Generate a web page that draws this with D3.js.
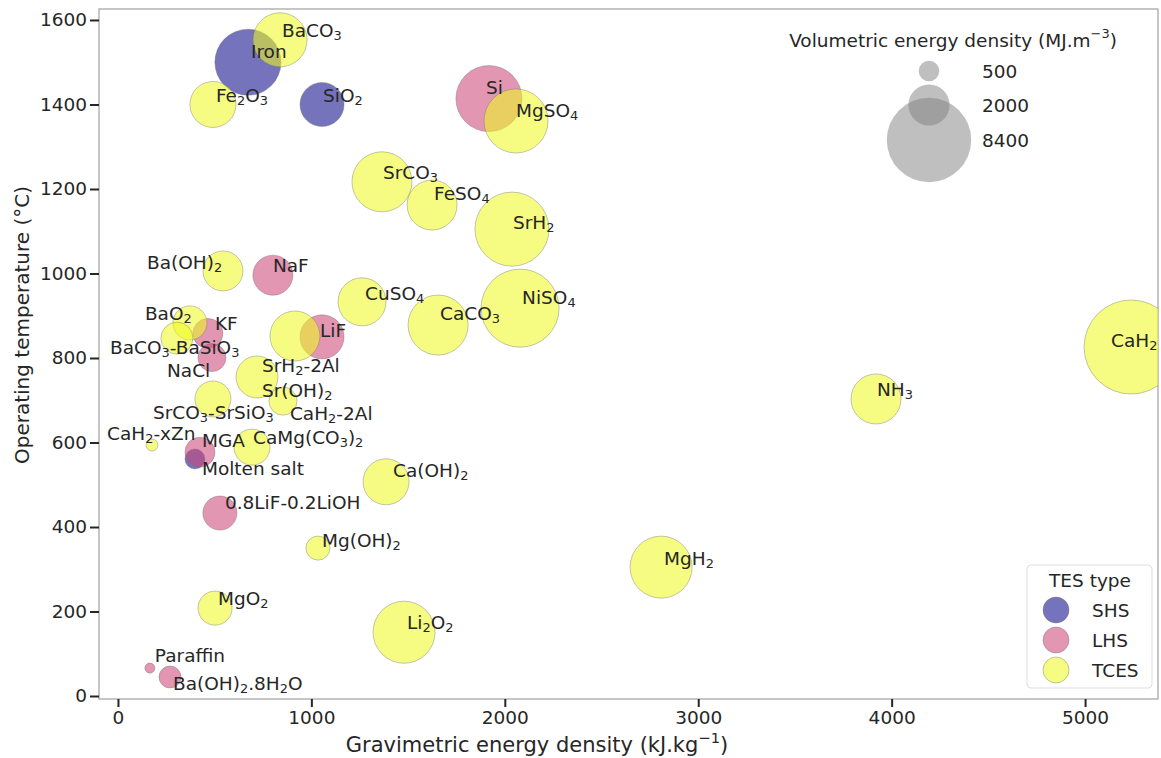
<!DOCTYPE html>
<html><head><meta charset="utf-8">
<script src="https://cdn.jsdelivr.net/npm/d3@7"></script>
<style>
body{margin:0;background:#fff}
svg text{font-family:"DejaVu Sans",sans-serif;fill:#262626}
</style>
</head><body>
<svg id="chart" width="1161" height="758"></svg>
<script>
// ---------- data ----------
const names = ["Iron","SiO_2","Molten salt",
  "Si","NaF","KF","NaCl","LiF","MGA","0.8LiF-0.2LiOH","Paraffin","Ba(OH)_2.8H_2O",
  "BaCO_3","Fe_2O_3","MgSO_4","SrCO_3","FeSO_4","SrH_2","Ba(OH)_2","CuSO_4","CaCO_3","NiSO_4",
  "BaO_2","BaCO_3-BaSiO_3","Sr(OH)_2","SrH_2-2Al","CaH_2-2Al","SrCO_3-SrSiO_3","CaH_2-xZn",
  "CaMg(CO_3)_2","Ca(OH)_2","Mg(OH)_2","MgH_2","NH_3","CaH_2","MgO_2","Li_2O_2"];
const types = ["SHS","SHS","SHS",
  "LHS","LHS","LHS","LHS","LHS","LHS","LHS","LHS","LHS",
  "TCES","TCES","TCES","TCES","TCES","TCES","TCES","TCES","TCES","TCES",
  "TCES","TCES","TCES","TCES","TCES","TCES","TCES",
  "TCES","TCES","TCES","TCES","TCES","TCES","TCES","TCES"];
const gravimetric = [672,1055,398,
  1918,801,465,486,1055,424,527,165,269,
  838,491,2058,1365,1624,2037,543,1262,1655,2079,
  372,305,915,719,853,491,176,
  693,1386,1034,2808,3919,5238,502,1479];
const temperature = [1500,1400,561,
  1414,996,858,801,850,577,433,66,45,
  1553,1400,1361,1217,1162,1105,1006,933,878,918,
  883,847,852,755,698,703,594,
  589,507,350,305,703,826,208,151];
const volumetric = [5150,2290,470,
  5150,1890,1060,930,2290,1060,1370,120,570,
  3450,2500,4840,4250,2950,6470,1890,2720,4250,7190,
  1370,1210,2950,2080,930,1530,170,
  1530,2500,680,4540,2950,10440,1370,4540];

const typeNames = ["SHS","LHS","TCES"];
const sizeLegendValues = [500,2000,8400];
const xTicks = [0,1000,2000,3000,4000,5000];
const yTicks = [0,200,400,600,800,1000,1200,1400,1600];

// label offsets in pixels from the bubble centre (layout only)
const labelOffsets = [[3,-11],[1,-9],[7,9],
  [-3,-12],[0,-10],[7,-10],[-45,12],[-2,-7],[2,-12],[5,-11],[5,-13],[3,6],
  [2,-10],[3,-9],[0,-11],[1,-10],[2,-12],[1,-7],[-76,-9],[3,-9],[2,-12],[2,-11],
  [-45,-10],[-67,9],[-33,54],[5,-12],[7,12],[-60,13],[-45,-12],
  [1,-10],[7,-12],[4,-8],[3,-9],[1,-10],[-20,-7],[3,-10],[3,-10]];

// ---------- layout ----------
const svg = d3.select("#chart");
const L = 99, R = 1158, T = 9, B = 699;
const FS = 18.5;
const x = d3.scaleLinear().domain([-98, 5377]).range([L, R]);
const y = d3.scaleLinear().domain([-7.1, 1626]).range([B, T]);
const r = d3.scaleSqrt().domain([0, 8400]).range([0, 42.2]);
const color = d3.scaleOrdinal().domain(typeNames)
  .range([d3.interpolatePlasma(0), d3.interpolatePlasma(0.5), d3.interpolatePlasma(1)]);
const ALPHA = 0.57;

// rich text: _X subscript (one char), ^{..} superscript
function rich(sel, str, size) {
  const parts = [];
  let i = 0, buf = "";
  while (i < str.length) {
    const c = str[i];
    if (c === "_") { if (buf) parts.push({t: buf, k: 0}); buf = ""; parts.push({t: str[i+1], k: 1}); i += 2; }
    else if (c === "^") { if (buf) parts.push({t: buf, k: 0}); buf = ""; const e = str.indexOf("}", i); parts.push({t: str.slice(i+2, e), k: -1}); i = e + 1; }
    else { buf += c; i++; }
  }
  if (buf) parts.push({t: buf, k: 0});
  let shift = 0;
  parts.forEach(p => {
    const target = p.k === 1 ? size*0.27 : p.k === -1 ? -size*0.38 : 0;
    sel.append("tspan").attr("dy", target - shift)
      .attr("font-size", p.k ? size*0.7 : size).text(p.t);
    shift = target;
  });
}

svg.append("defs").append("clipPath").attr("id", "plotclip")
  .append("rect").attr("x", L).attr("y", T).attr("width", R-L).attr("height", B-T);

// frame (spines)
svg.append("rect").attr("x", L).attr("y", T).attr("width", R-L).attr("height", B-T)
  .attr("fill", "none").attr("stroke", "#a0a0a0").attr("stroke-width", 1.2);

// axes
const gx = svg.append("g").attr("transform", `translate(0,${B})`)
  .call(d3.axisBottom(x).tickValues(xTicks).tickSize(8).tickPadding(4).tickFormat(d3.format("d")));
const gy = svg.append("g").attr("transform", `translate(${L},0)`)
  .call(d3.axisLeft(y).tickValues(yTicks).tickSize(9).tickPadding(3).tickFormat(d3.format("d")));
[gx, gy].forEach(g => {
  g.select(".domain").remove();
  g.selectAll(".tick line").attr("stroke", "#262626").attr("stroke-width", 2);
  g.selectAll(".tick text").attr("font-size", FS).attr("fill", "#262626")
    .style("font-family", "DejaVu Sans");
});

// axis titles
const xt = svg.append("text").attr("x", 537).attr("y", 745).attr("text-anchor", "middle")
  .attr("dominant-baseline", "central").attr("font-size", 21);
rich(xt, "Gravimetric energy density (kJ.kg^{−1})", 21);
svg.append("text").attr("transform", "translate(22,325) rotate(-90)").attr("text-anchor", "middle")
  .attr("dominant-baseline", "central").attr("font-size", 20).text("Operating temperature (°C)");

// bubbles
const idx = d3.range(names.length);
const plot = svg.append("g").attr("clip-path", "url(#plotclip)");
plot.selectAll("circle").data(idx).join("circle")
  .attr("cx", i => x(gravimetric[i])).attr("cy", i => y(temperature[i]))
  .attr("r", i => r(volumetric[i]))
  .attr("fill", i => color(types[i])).attr("fill-opacity", ALPHA)
  .attr("stroke", "#707070").attr("stroke-opacity", 0.5).attr("stroke-width", 0.8);

// labels
idx.forEach(i => {
  const t = plot.append("text")
    .attr("x", x(gravimetric[i]) + labelOffsets[i][0])
    .attr("y", y(temperature[i]) + labelOffsets[i][1])
    .attr("dominant-baseline", "central").attr("font-size", FS);
  rich(t, names[i], FS);
});

// size legend
svg.append("text").attr("x", 953).attr("y", 40).attr("text-anchor", "middle")
  .attr("dominant-baseline", "central").attr("font-size", FS)
  .call(s => rich(s, "Volumetric energy density (MJ.m^{−3})", FS));
const sl = svg.append("g");
const sizeY = [71, 105, 140];
sizeLegendValues.forEach((v, k) => {
  sl.append("circle").attr("cx", 929).attr("cy", sizeY[k]).attr("r", r(v))
    .attr("fill", "#808080").attr("fill-opacity", 0.5);
  sl.append("text").attr("x", 982).attr("y", sizeY[k]).attr("dominant-baseline", "central")
    .attr("font-size", FS).text(v);
});

// type legend
const tl = svg.append("g");
tl.append("rect").attr("x", 1027).attr("y", 565).attr("width", 125).attr("height", 123)
  .attr("rx", 4).attr("fill", "#fff").attr("fill-opacity", 0.8).attr("stroke", "#dddddd");
tl.append("text").attr("x", 1090).attr("y", 580).attr("text-anchor", "middle")
  .attr("dominant-baseline", "central").attr("font-size", FS).text("TES type");
typeNames.forEach((tn, k) => {
  const cy = 610 + k*30;
  tl.append("circle").attr("cx", 1056).attr("cy", cy).attr("r", 13)
    .attr("fill", color(tn)).attr("fill-opacity", ALPHA)
    .attr("stroke", "#707070").attr("stroke-opacity", 0.5).attr("stroke-width", 0.8);
  tl.append("text").attr("x", 1092).attr("y", cy).attr("dominant-baseline", "central")
    .attr("font-size", FS).text(tn);
});
</script>
</body></html>
